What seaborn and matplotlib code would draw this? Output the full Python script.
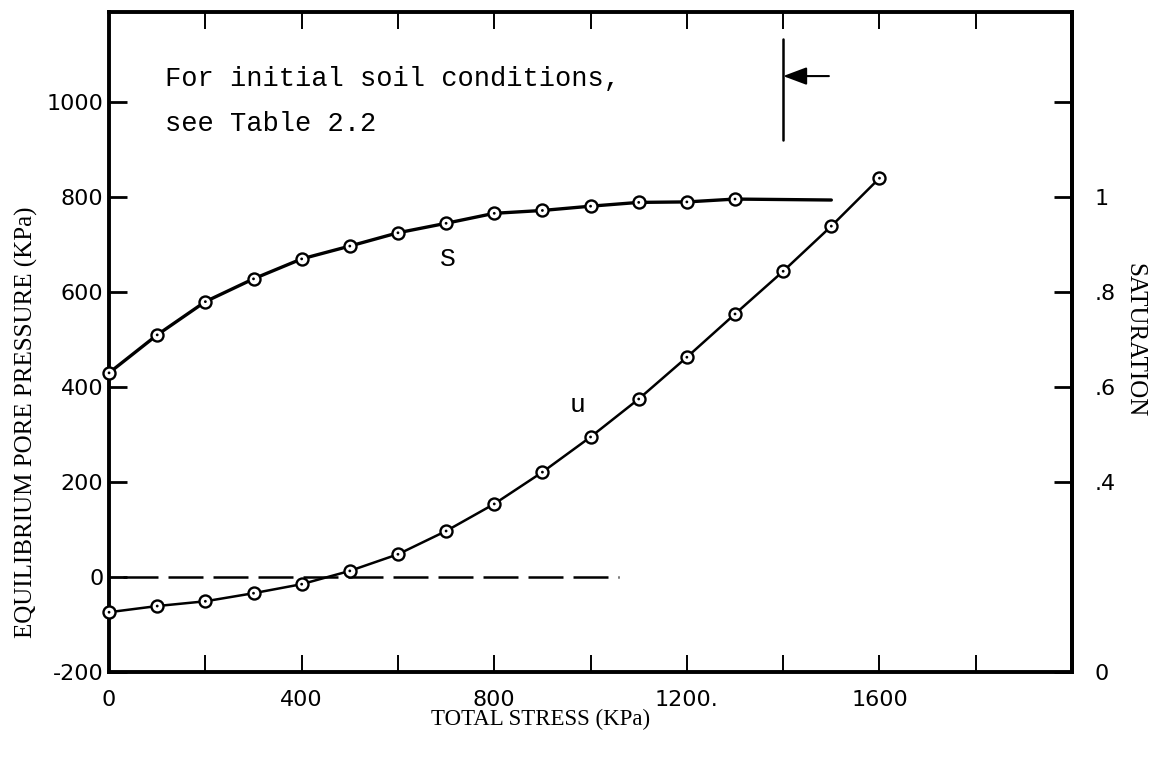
import matplotlib
matplotlib.use("Agg")
import matplotlib.pyplot as plt
import seaborn as sns
import pandas as pd

# Equilibrium pore pressure u (KPa) against total stress (KPa)
stress_u = [0, 100, 200, 300, 400, 500, 600, 700, 800, 900, 1000,
            1100, 1200, 1300, 1400, 1500, 1600]
pore_pressure = [-74, -61, -51, -34, -15, 13, 48, 97, 154, 221, 295,
                 375, 463, 554, 644, 739, 840]

# Degree of saturation S against total stress (KPa)
stress_s = [0, 100, 200, 300, 400, 500, 600, 700, 800, 900, 1000,
            1100, 1200, 1300]
saturation = [0.63, 0.71, 0.78, 0.828, 0.87, 0.897, 0.925, 0.945, 0.966,
              0.972, 0.981, 0.989, 0.99, 0.996]
# S stays level beyond the last computed point
stress_s_tail = [1300, 1500]
saturation_tail = [0.996, 0.994]

# u = 0 reference line
zero_stress = [30, 1060]
zero_pressure = [0, 0]

# limit marker with arrow
limit_stress = 1400
limit_span = [920, 1133]
arrow_from = 1495
arrow_level = 1055

x_ticks = [0, 200, 400, 600, 800, 1000, 1200, 1400, 1600, 1800, 2000]
x_labels = ["0", "", "400", "", "800", "", "1200.", "", "1600", "", ""]
y_ticks = [-200, 0, 200, 400, 600, 800, 1000]
y_labels = ["-200", "0", "200", "400", "600", "800", "1000"]
sat_ticks = [0, 0.4, 0.6, 0.8, 1.0, 1.2]
sat_labels = ["0", ".4", ".6", ".8", "1", ""]

sns.set_theme(style="white")
plt.rcParams["font.family"] = ["DejaVu Sans"]

TYPE = "Liberation Mono"
SERIF = "Liberation Serif"

fig = plt.figure(figsize=(11.54, 7.67), dpi=100)
ax = fig.add_axes([0.0945, 0.1238, 0.8345, 0.8606])
ax2 = ax.twinx()

u_df = pd.DataFrame({"stress": stress_u, "u": pore_pressure})
s_df = pd.DataFrame({"stress": stress_s, "S": saturation})
tail_df = pd.DataFrame({"stress": stress_s_tail, "S": saturation_tail})

# zero line
ax.plot(zero_stress, zero_pressure, color="black", lw=1.8,
        linestyle=(0, (14, 4)), zorder=1)

# u curve
sns.lineplot(data=u_df, x="stress", y="u", ax=ax, color="black", lw=1.8,
             estimator=None, sort=False, zorder=2)
sns.scatterplot(data=u_df, x="stress", y="u", ax=ax, s=75, color="white",
                edgecolor="black", linewidth=1.7, zorder=3, clip_on=False)
sns.scatterplot(data=u_df, x="stress", y="u", ax=ax, s=4, color="black",
                edgecolor="none", zorder=4, clip_on=False)

# S curve
sns.lineplot(data=s_df, x="stress", y="S", ax=ax2, color="black", lw=2.4,
             estimator=None, sort=False, zorder=2)
sns.lineplot(data=tail_df, x="stress", y="S", ax=ax2, color="black", lw=2.4,
             estimator=None, sort=False, zorder=2)
sns.scatterplot(data=s_df, x="stress", y="S", ax=ax2, s=75, color="white",
                edgecolor="black", linewidth=1.7, zorder=3, clip_on=False)
sns.scatterplot(data=s_df, x="stress", y="S", ax=ax2, s=4, color="black",
                edgecolor="none", zorder=4, clip_on=False)

# limit marker
ax.plot([limit_stress, limit_stress], limit_span, color="black", lw=1.8)
ax.annotate("", xy=(limit_stress, arrow_level), xytext=(arrow_from, arrow_level),
            arrowprops=dict(arrowstyle="-|>,head_length=0.8,head_width=0.3",
                            color="black", lw=1.5, mutation_scale=18,
                            shrinkA=0, shrinkB=0))

# curve labels and note
ax.text(704, 669, "S", fontfamily=TYPE, fontsize=19, ha="center", va="center",
        color="black")
ax.text(972, 362, "u", fontfamily=TYPE, fontsize=19, ha="center", va="center",
        color="black")
ax.text(0.058, 0.898, "For initial soil conditions,", transform=ax.transAxes,
        fontfamily=TYPE, fontsize=19.5, ha="left", va="center", color="black")
ax.text(0.058, 0.830, "see Table 2.2", transform=ax.transAxes,
        fontfamily=TYPE, fontsize=19.5, ha="left", va="center", color="black")

# axes ranges and ticks
ax.set_xlim(0, 2000)
ax.set_ylim(-200, 1190)
ax2.set_ylim(0, 1.39)

ax.set_xticks(x_ticks)
ax.set_xticklabels(x_labels)
ax.set_yticks(y_ticks)
ax.set_yticklabels(y_labels)
ax2.set_yticks(sat_ticks)
ax2.set_yticklabels(sat_labels)

ax.tick_params(axis="x", which="both", direction="in", length=12, width=1.4,
               top=True, bottom=True, labelsize=16, pad=13, colors="black")
ax.tick_params(axis="y", direction="in", length=13, width=2.0, left=True,
               right=False, labelsize=16, pad=4, colors="black")
ax2.tick_params(axis="y", direction="in", length=13, width=2.0, right=True,
                left=False, labelsize=16, pad=16, colors="black")

for lab in ax.get_xticklabels() + ax.get_yticklabels() + ax2.get_yticklabels():
    lab.set_fontfamily("DejaVu Sans")

for a in (ax, ax2):
    for sp in a.spines.values():
        sp.set_linewidth(2.8)
        sp.set_color("black")
ax2.spines["left"].set_visible(False)
ax2.spines["top"].set_visible(False)
ax2.spines["bottom"].set_visible(False)

# axis titles
ax.set_xlabel("TOTAL STRESS (KPa)", fontfamily=SERIF, fontsize=16.5, color="black")
ax.xaxis.set_label_coords(0.448, -0.056)
ax.set_ylabel("EQUILIBRIUM PORE PRESSURE (KPa)", fontfamily=SERIF, fontsize=18,
              color="black")
ax.yaxis.set_label_coords(-0.074, 0.379)
ax2.set_ylabel("SATURATION", fontfamily=SERIF, fontsize=18, color="black",
               rotation=270, va="center", ha="center")
ax2.yaxis.set_label_coords(1.065, 0.503)

fig.savefig("out.png", dpi=100, facecolor="white")
